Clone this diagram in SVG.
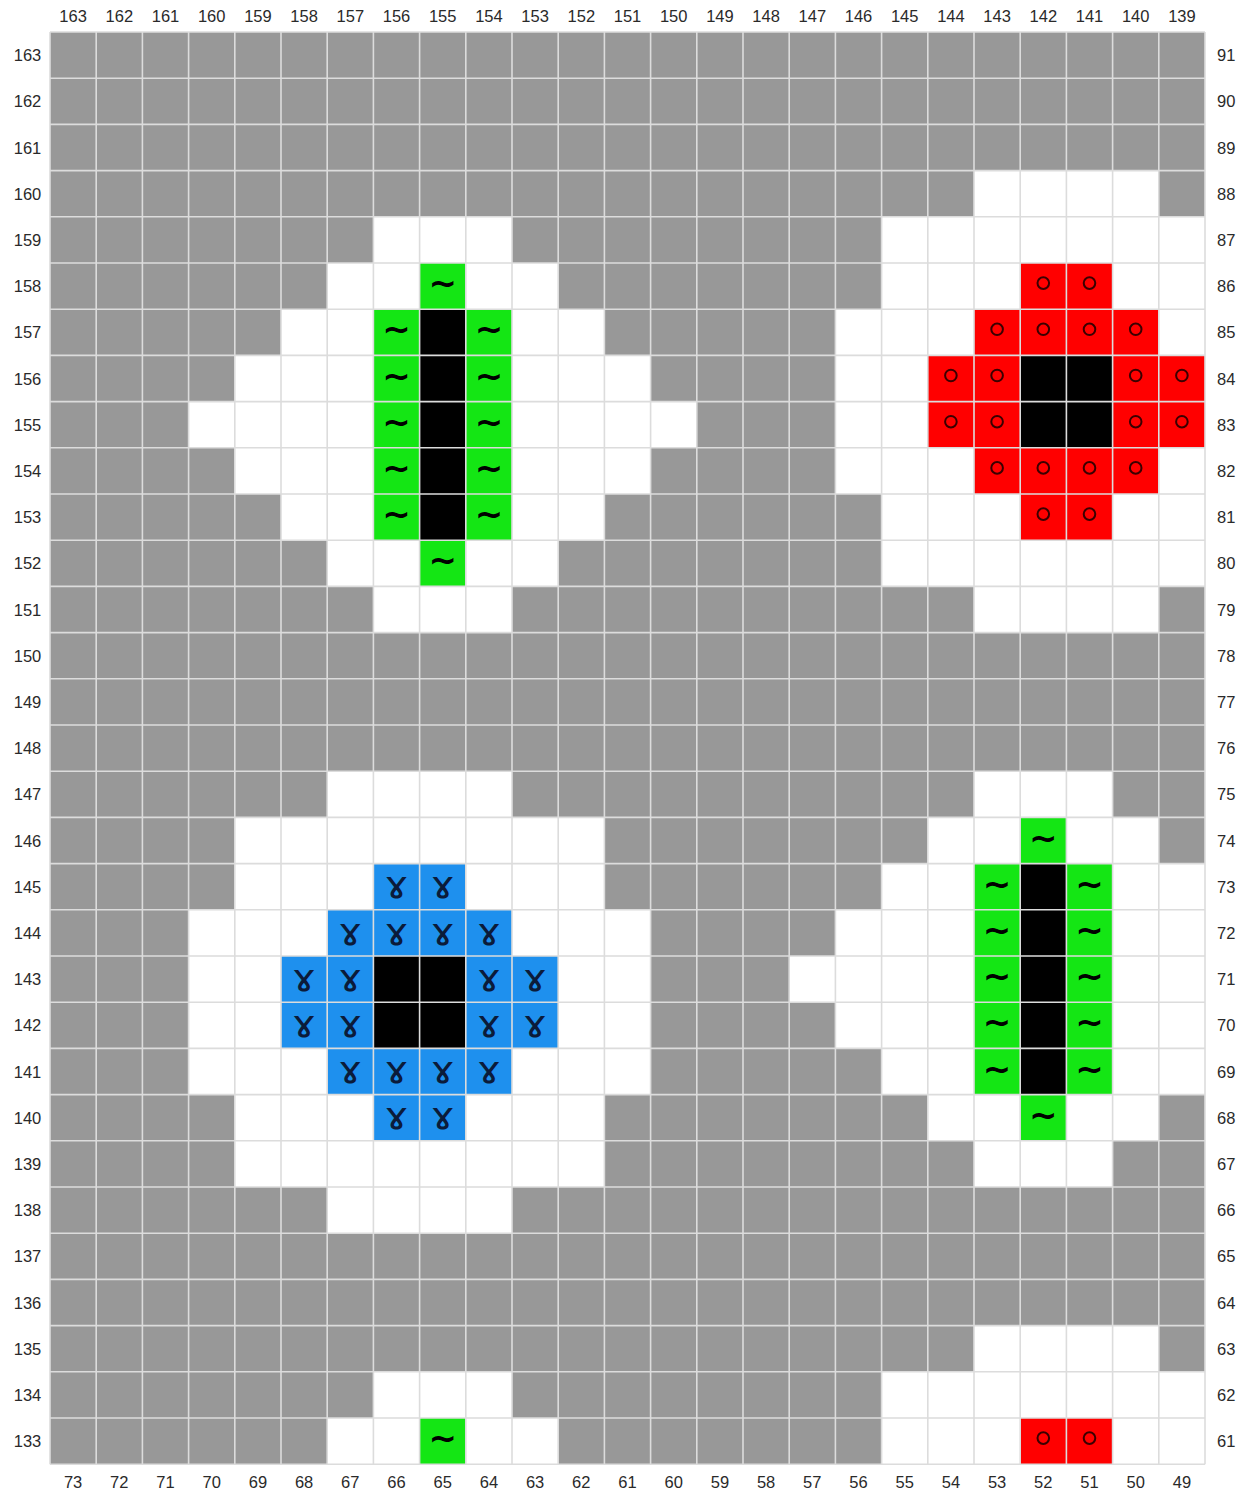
<svg xmlns="http://www.w3.org/2000/svg" xmlns:xlink="http://www.w3.org/1999/xlink" width="1249" height="1497" viewBox="0 0 1249 1497">
<style>
.lb{font-family:"Liberation Sans",Arial,sans-serif;font-size:16.5px;fill:#2a2a2a;text-anchor:middle}
.lr{font-family:"Liberation Sans",Arial,sans-serif;font-size:16.5px;fill:#2a2a2a;text-anchor:start}
.w{fill:#ffffff}.gr{fill:#14e614}.bk{fill:#000000}.rd{fill:#ff0000}.bl{fill:#1e90ee}
.t{font-family:"DejaVu Sans",sans-serif;font-weight:bold;font-size:34px;fill:#000;text-anchor:middle;dominant-baseline:central}
.g{font-family:"DejaVu Sans",sans-serif;font-size:39px;fill:#0b1b3a;text-anchor:middle}
</style>
<defs>
<circle id="o" r="5.8" fill="none" stroke="#3a0000" stroke-width="2"/>
</defs>
<rect width="1249" height="1497" fill="#ffffff"/>
<g id="cells" transform="translate(50 32) scale(46.2)">
<rect x="0" y="0" width="25" height="31" fill="#989898"/>
<g id="white">
<rect class="w" x="20" y="3" width="4" height="1"/>
<rect class="w" x="7" y="4" width="3" height="1"/><rect class="w" x="18" y="4" width="7" height="1"/>
<rect class="w" x="6" y="5" width="5" height="1"/><rect class="w" x="18" y="5" width="7" height="1"/>
<rect class="w" x="5" y="6" width="7" height="1"/><rect class="w" x="17" y="6" width="8" height="1"/>
<rect class="w" x="4" y="7" width="9" height="1"/><rect class="w" x="17" y="7" width="8" height="1"/>
<rect class="w" x="3" y="8" width="11" height="1"/><rect class="w" x="17" y="8" width="8" height="1"/>
<rect class="w" x="4" y="9" width="9" height="1"/><rect class="w" x="17" y="9" width="8" height="1"/>
<rect class="w" x="5" y="10" width="7" height="1"/><rect class="w" x="18" y="10" width="7" height="1"/>
<rect class="w" x="6" y="11" width="5" height="1"/><rect class="w" x="18" y="11" width="7" height="1"/>
<rect class="w" x="7" y="12" width="3" height="1"/><rect class="w" x="20" y="12" width="4" height="1"/>
<rect class="w" x="6" y="16" width="4" height="1"/><rect class="w" x="20" y="16" width="3" height="1"/>
<rect class="w" x="4" y="17" width="8" height="1"/><rect class="w" x="19" y="17" width="5" height="1"/>
<rect class="w" x="4" y="18" width="8" height="1"/><rect class="w" x="18" y="18" width="7" height="1"/>
<rect class="w" x="3" y="19" width="10" height="1"/><rect class="w" x="17" y="19" width="8" height="1"/>
<rect class="w" x="3" y="20" width="10" height="1"/><rect class="w" x="16" y="20" width="9" height="1"/>
<rect class="w" x="3" y="21" width="10" height="1"/><rect class="w" x="17" y="21" width="8" height="1"/>
<rect class="w" x="3" y="22" width="10" height="1"/><rect class="w" x="18" y="22" width="7" height="1"/>
<rect class="w" x="4" y="23" width="8" height="1"/><rect class="w" x="19" y="23" width="5" height="1"/>
<rect class="w" x="4" y="24" width="8" height="1"/><rect class="w" x="20" y="24" width="3" height="1"/>
<rect class="w" x="6" y="25" width="4" height="1"/>
<rect class="w" x="20" y="28" width="4" height="1"/>
<rect class="w" x="7" y="29" width="3" height="1"/><rect class="w" x="18" y="29" width="7" height="1"/>
<rect class="w" x="6" y="30" width="5" height="1"/><rect class="w" x="18" y="30" width="7" height="1"/>
</g>
<g id="green">
<rect class="gr" x="8" y="5" width="1" height="1"/><rect class="gr" x="7" y="6" width="1" height="5"/><rect class="gr" x="9" y="6" width="1" height="5"/><rect class="gr" x="8" y="11" width="1" height="1"/>
<rect class="gr" x="21" y="17" width="1" height="1"/><rect class="gr" x="20" y="18" width="1" height="5"/><rect class="gr" x="22" y="18" width="1" height="5"/><rect class="gr" x="21" y="23" width="1" height="1"/>
<rect class="gr" x="8" y="30" width="1" height="1"/>
</g>
<g id="red">
<rect class="rd" x="21" y="5" width="2" height="1"/><rect class="rd" x="20" y="6" width="4" height="1"/>
<rect class="rd" x="19" y="7" width="2" height="2"/><rect class="rd" x="23" y="7" width="2" height="2"/>
<rect class="rd" x="20" y="9" width="4" height="1"/><rect class="rd" x="21" y="10" width="2" height="1"/>
<rect class="rd" x="21" y="30" width="2" height="1"/>
</g>
<g id="blue">
<rect class="bl" x="7" y="18" width="2" height="1"/><rect class="bl" x="6" y="19" width="4" height="1"/>
<rect class="bl" x="5" y="20" width="2" height="2"/><rect class="bl" x="9" y="20" width="2" height="2"/>
<rect class="bl" x="6" y="22" width="4" height="1"/><rect class="bl" x="7" y="23" width="2" height="1"/>
</g>
<g id="black">
<rect class="bk" x="8" y="6" width="1" height="5"/>
<rect class="bk" x="21" y="18" width="1" height="5"/>
<rect class="bk" x="21" y="7" width="2" height="2"/>
<rect class="bk" x="7" y="20" width="2" height="2"/>
</g>
<path id="gridlines" fill="none" stroke="#dcdcdc" stroke-width="1.6" vector-effect="non-scaling-stroke" d="M0 0V31M1 0V31M2 0V31M3 0V31M4 0V31M5 0V31M6 0V31M7 0V31M8 0V31M9 0V31M10 0V31M11 0V31M12 0V31M13 0V31M14 0V31M15 0V31M16 0V31M17 0V31M18 0V31M19 0V31M20 0V31M21 0V31M22 0V31M23 0V31M24 0V31M25 0V31M0 0H25M0 1H25M0 2H25M0 3H25M0 4H25M0 5H25M0 6H25M0 7H25M0 8H25M0 9H25M0 10H25M0 11H25M0 12H25M0 13H25M0 14H25M0 15H25M0 16H25M0 17H25M0 18H25M0 19H25M0 20H25M0 21H25M0 22H25M0 23H25M0 24H25M0 25H25M0 26H25M0 27H25M0 28H25M0 29H25M0 30H25M0 31H25"/>
</g>
<g id="tildes">
<text class="t" x="442.7" y="283.1">~</text>
<text class="t" x="396.5" y="329.3">~</text><text class="t" x="396.5" y="375.5">~</text><text class="t" x="396.5" y="421.7">~</text><text class="t" x="396.5" y="467.9">~</text><text class="t" x="396.5" y="514.1">~</text>
<text class="t" x="488.9" y="329.3">~</text><text class="t" x="488.9" y="375.5">~</text><text class="t" x="488.9" y="421.7">~</text><text class="t" x="488.9" y="467.9">~</text><text class="t" x="488.9" y="514.1">~</text>
<text class="t" x="442.7" y="560.3">~</text>
<text class="t" x="1043.3" y="837.5">~</text>
<text class="t" x="997.1" y="883.7">~</text><text class="t" x="997.1" y="929.9">~</text><text class="t" x="997.1" y="976.1">~</text><text class="t" x="997.1" y="1022.3">~</text><text class="t" x="997.1" y="1068.5">~</text>
<text class="t" x="1089.5" y="883.7">~</text><text class="t" x="1089.5" y="929.9">~</text><text class="t" x="1089.5" y="976.1">~</text><text class="t" x="1089.5" y="1022.3">~</text><text class="t" x="1089.5" y="1068.5">~</text>
<text class="t" x="1043.3" y="1114.7">~</text>
<text class="t" x="442.7" y="1438.1">~</text>
</g>
<g id="circles">
<use xlink:href="#o" x="1043.3" y="283.1"/><use xlink:href="#o" x="1089.5" y="283.1"/>
<use xlink:href="#o" x="997.1" y="329.3"/><use xlink:href="#o" x="1043.3" y="329.3"/><use xlink:href="#o" x="1089.5" y="329.3"/><use xlink:href="#o" x="1135.7" y="329.3"/>
<use xlink:href="#o" x="950.9" y="375.5"/><use xlink:href="#o" x="997.1" y="375.5"/><use xlink:href="#o" x="1135.7" y="375.5"/><use xlink:href="#o" x="1181.9" y="375.5"/>
<use xlink:href="#o" x="950.9" y="421.7"/><use xlink:href="#o" x="997.1" y="421.7"/><use xlink:href="#o" x="1135.7" y="421.7"/><use xlink:href="#o" x="1181.9" y="421.7"/>
<use xlink:href="#o" x="997.1" y="467.9"/><use xlink:href="#o" x="1043.3" y="467.9"/><use xlink:href="#o" x="1089.5" y="467.9"/><use xlink:href="#o" x="1135.7" y="467.9"/>
<use xlink:href="#o" x="1043.3" y="514.1"/><use xlink:href="#o" x="1089.5" y="514.1"/>
<use xlink:href="#o" x="1043.3" y="1438.1"/><use xlink:href="#o" x="1089.5" y="1438.1"/>
</g>
<g id="loops">
<text class="g" x="396.5" y="898.4" textLength="24" lengthAdjust="spacingAndGlyphs">ɤ</text><text class="g" x="442.7" y="898.4" textLength="24" lengthAdjust="spacingAndGlyphs">ɤ</text>
<text class="g" x="350.3" y="944.6" textLength="24" lengthAdjust="spacingAndGlyphs">ɤ</text><text class="g" x="396.5" y="944.6" textLength="24" lengthAdjust="spacingAndGlyphs">ɤ</text><text class="g" x="442.7" y="944.6" textLength="24" lengthAdjust="spacingAndGlyphs">ɤ</text><text class="g" x="488.9" y="944.6" textLength="24" lengthAdjust="spacingAndGlyphs">ɤ</text>
<text class="g" x="304.1" y="990.8" textLength="24" lengthAdjust="spacingAndGlyphs">ɤ</text><text class="g" x="350.3" y="990.8" textLength="24" lengthAdjust="spacingAndGlyphs">ɤ</text><text class="g" x="488.9" y="990.8" textLength="24" lengthAdjust="spacingAndGlyphs">ɤ</text><text class="g" x="535.1" y="990.8" textLength="24" lengthAdjust="spacingAndGlyphs">ɤ</text>
<text class="g" x="304.1" y="1037" textLength="24" lengthAdjust="spacingAndGlyphs">ɤ</text><text class="g" x="350.3" y="1037" textLength="24" lengthAdjust="spacingAndGlyphs">ɤ</text><text class="g" x="488.9" y="1037" textLength="24" lengthAdjust="spacingAndGlyphs">ɤ</text><text class="g" x="535.1" y="1037" textLength="24" lengthAdjust="spacingAndGlyphs">ɤ</text>
<text class="g" x="350.3" y="1083.2" textLength="24" lengthAdjust="spacingAndGlyphs">ɤ</text><text class="g" x="396.5" y="1083.2" textLength="24" lengthAdjust="spacingAndGlyphs">ɤ</text><text class="g" x="442.7" y="1083.2" textLength="24" lengthAdjust="spacingAndGlyphs">ɤ</text><text class="g" x="488.9" y="1083.2" textLength="24" lengthAdjust="spacingAndGlyphs">ɤ</text>
<text class="g" x="396.5" y="1129.4" textLength="24" lengthAdjust="spacingAndGlyphs">ɤ</text><text class="g" x="442.7" y="1129.4" textLength="24" lengthAdjust="spacingAndGlyphs">ɤ</text>
</g>
<g id="top-labels">
<text class="lb" x="73.1" y="22">163</text><text class="lb" x="119.3" y="22">162</text><text class="lb" x="165.5" y="22">161</text><text class="lb" x="211.7" y="22">160</text><text class="lb" x="257.9" y="22">159</text><text class="lb" x="304.1" y="22">158</text><text class="lb" x="350.3" y="22">157</text><text class="lb" x="396.5" y="22">156</text><text class="lb" x="442.7" y="22">155</text><text class="lb" x="488.9" y="22">154</text><text class="lb" x="535.1" y="22">153</text><text class="lb" x="581.3" y="22">152</text><text class="lb" x="627.5" y="22">151</text><text class="lb" x="673.7" y="22">150</text><text class="lb" x="719.9" y="22">149</text><text class="lb" x="766.1" y="22">148</text><text class="lb" x="812.3" y="22">147</text><text class="lb" x="858.5" y="22">146</text><text class="lb" x="904.7" y="22">145</text><text class="lb" x="950.9" y="22">144</text><text class="lb" x="997.1" y="22">143</text><text class="lb" x="1043.3" y="22">142</text><text class="lb" x="1089.5" y="22">141</text><text class="lb" x="1135.7" y="22">140</text><text class="lb" x="1181.9" y="22">139</text>
</g>
<g id="bottom-labels">
<text class="lb" x="73.1" y="1487.5">73</text><text class="lb" x="119.3" y="1487.5">72</text><text class="lb" x="165.5" y="1487.5">71</text><text class="lb" x="211.7" y="1487.5">70</text><text class="lb" x="257.9" y="1487.5">69</text><text class="lb" x="304.1" y="1487.5">68</text><text class="lb" x="350.3" y="1487.5">67</text><text class="lb" x="396.5" y="1487.5">66</text><text class="lb" x="442.7" y="1487.5">65</text><text class="lb" x="488.9" y="1487.5">64</text><text class="lb" x="535.1" y="1487.5">63</text><text class="lb" x="581.3" y="1487.5">62</text><text class="lb" x="627.5" y="1487.5">61</text><text class="lb" x="673.7" y="1487.5">60</text><text class="lb" x="719.9" y="1487.5">59</text><text class="lb" x="766.1" y="1487.5">58</text><text class="lb" x="812.3" y="1487.5">57</text><text class="lb" x="858.5" y="1487.5">56</text><text class="lb" x="904.7" y="1487.5">55</text><text class="lb" x="950.9" y="1487.5">54</text><text class="lb" x="997.1" y="1487.5">53</text><text class="lb" x="1043.3" y="1487.5">52</text><text class="lb" x="1089.5" y="1487.5">51</text><text class="lb" x="1135.7" y="1487.5">50</text><text class="lb" x="1181.9" y="1487.5">49</text>
</g>
<g id="left-labels">
<text class="lb" x="27.5" y="61.1">163</text><text class="lb" x="27.5" y="107.3">162</text><text class="lb" x="27.5" y="153.5">161</text><text class="lb" x="27.5" y="199.7">160</text><text class="lb" x="27.5" y="245.9">159</text><text class="lb" x="27.5" y="292.1">158</text><text class="lb" x="27.5" y="338.3">157</text><text class="lb" x="27.5" y="384.5">156</text><text class="lb" x="27.5" y="430.7">155</text><text class="lb" x="27.5" y="476.9">154</text><text class="lb" x="27.5" y="523.1">153</text><text class="lb" x="27.5" y="569.3">152</text><text class="lb" x="27.5" y="615.5">151</text><text class="lb" x="27.5" y="661.7">150</text><text class="lb" x="27.5" y="707.9">149</text><text class="lb" x="27.5" y="754.1">148</text><text class="lb" x="27.5" y="800.3">147</text><text class="lb" x="27.5" y="846.5">146</text><text class="lb" x="27.5" y="892.7">145</text><text class="lb" x="27.5" y="938.9">144</text><text class="lb" x="27.5" y="985.1">143</text><text class="lb" x="27.5" y="1031.3">142</text><text class="lb" x="27.5" y="1077.5">141</text><text class="lb" x="27.5" y="1123.7">140</text><text class="lb" x="27.5" y="1169.9">139</text><text class="lb" x="27.5" y="1216.1">138</text><text class="lb" x="27.5" y="1262.3">137</text><text class="lb" x="27.5" y="1308.5">136</text><text class="lb" x="27.5" y="1354.7">135</text><text class="lb" x="27.5" y="1400.9">134</text><text class="lb" x="27.5" y="1447.1">133</text>
</g>
<g id="right-labels">
<text class="lr" x="1217" y="61.1">91</text><text class="lr" x="1217" y="107.3">90</text><text class="lr" x="1217" y="153.5">89</text><text class="lr" x="1217" y="199.7">88</text><text class="lr" x="1217" y="245.9">87</text><text class="lr" x="1217" y="292.1">86</text><text class="lr" x="1217" y="338.3">85</text><text class="lr" x="1217" y="384.5">84</text><text class="lr" x="1217" y="430.7">83</text><text class="lr" x="1217" y="476.9">82</text><text class="lr" x="1217" y="523.1">81</text><text class="lr" x="1217" y="569.3">80</text><text class="lr" x="1217" y="615.5">79</text><text class="lr" x="1217" y="661.7">78</text><text class="lr" x="1217" y="707.9">77</text><text class="lr" x="1217" y="754.1">76</text><text class="lr" x="1217" y="800.3">75</text><text class="lr" x="1217" y="846.5">74</text><text class="lr" x="1217" y="892.7">73</text><text class="lr" x="1217" y="938.9">72</text><text class="lr" x="1217" y="985.1">71</text><text class="lr" x="1217" y="1031.3">70</text><text class="lr" x="1217" y="1077.5">69</text><text class="lr" x="1217" y="1123.7">68</text><text class="lr" x="1217" y="1169.9">67</text><text class="lr" x="1217" y="1216.1">66</text><text class="lr" x="1217" y="1262.3">65</text><text class="lr" x="1217" y="1308.5">64</text><text class="lr" x="1217" y="1354.7">63</text><text class="lr" x="1217" y="1400.9">62</text><text class="lr" x="1217" y="1447.1">61</text>
</g>
</svg>
